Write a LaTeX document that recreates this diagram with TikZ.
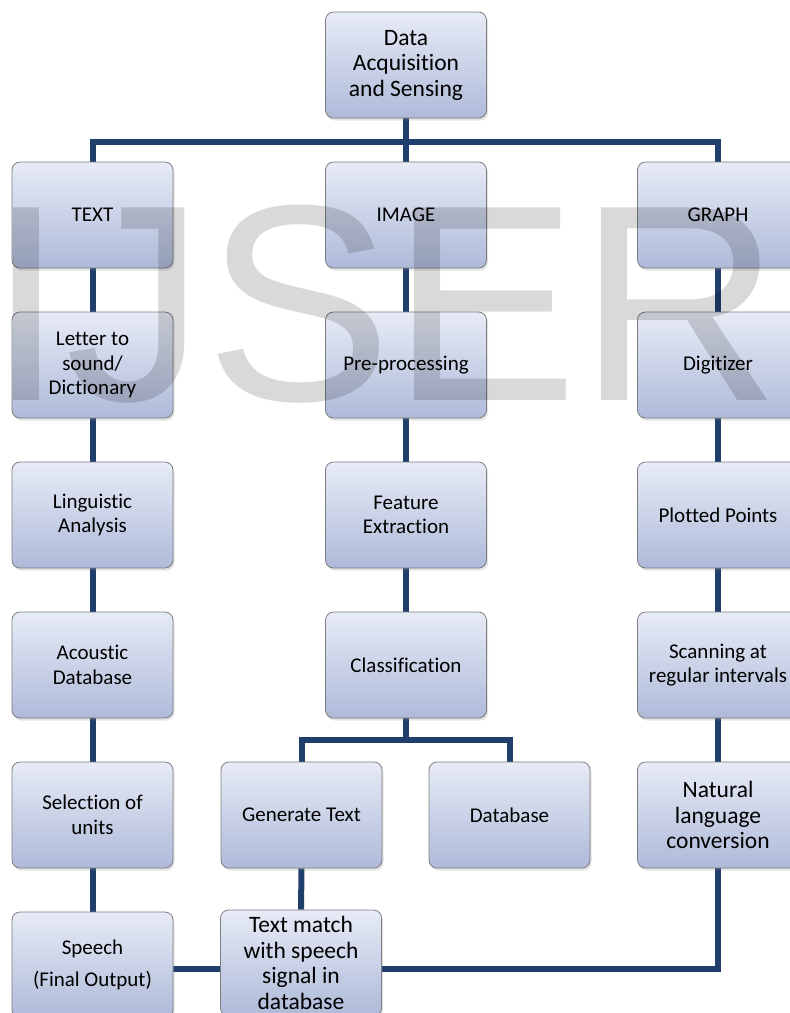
\documentclass[tikz,border=0pt]{standalone}
\usepackage{fontspec}
\setmainfont[Ligatures=NoCommon]{Carlito}
\newfontfamily\wmfont{Liberation Sans}
\usetikzlibrary{shadows,calc}
\pgfdeclarelayer{background}
\pgfdeclarelayer{foreground}
\pgfsetlayers{background,main,foreground}
\definecolor{boxtop}{RGB}{231,235,246}
\definecolor{boxbot}{RGB}{174,186,217}
\definecolor{boxline}{RGB}{125,125,130}
\definecolor{conn}{RGB}{31,62,108}
\tikzset{
  box/.style={rectangle, rounded corners=8pt, draw=boxline, line width=0.8pt,
    top color=boxtop, bottom color=boxbot, minimum width=161pt, minimum height=106pt,
    inner sep=0pt, align=center, font=\fontsize{21}{24.5}\selectfont,
    drop shadow={shadow xshift=1.5pt, shadow yshift=-2.5pt, opacity=0.22}},
  bigbox/.style={box, font=\fontsize{23.5}{25.5}\selectfont},
  link/.style={draw=conn, line width=6pt},
}
\begin{document}
\begin{tikzpicture}[x=1pt,y=-1pt]
\useasboundingbox (0,0) rectangle (790,1013);
% nodes
\node[bigbox] (top) at (406,65) {Data\\Acquisition\\and Sensing};
\node[box] (text) at (92.5,215) {TEXT};
\node[box] (image) at (406,215) {IMAGE};
\node[box] (graph) at (718,215) {GRAPH};
\node[box] (letter) at (92.5,365) {Letter to\\sound/\\Dictionary};
\node[box] (pre) at (406,365) {Pre-processing};
\node[box] (digit) at (718,365) {Digitizer};
\node[box] (ling) at (92.5,515) {Linguistic\\Analysis};
\node[box] (feat) at (406,515) {Feature\\Extraction};
\node[box] (plot) at (718,515) {Plotted Points};
\node[box] (acou) at (92.5,665) {Acoustic\\Database};
\node[box] (class) at (406,665) {Classification};
\node[box] (scan) at (718,665) {Scanning at\\regular intervals};
\node[box] (sel) at (92.5,815) {Selection of\\units};
\node[box] (gen) at (301.5,815) {Generate Text};
\node[box] (db) at (509.5,815) {Database};
\node[bigbox] (nat) at (718,815) {Natural\\language\\conversion};
\node[box] (speech) at (92.5,965) {Speech\\[8pt](Final Output)};
\node[bigbox] (match) at (301,963) {Text match\\with speech\\signal in\\database};
% connectors
\begin{pgfonlayer}{background}
\fill[white] (0,0) rectangle (790,1013);
\draw[link] (top.south) -- (image.north);
\draw[link] (text.north) -- ++(0,-20) -| (graph.north);
\draw[link] (text) -- (letter);
\draw[link] (letter) -- (ling);
\draw[link] (ling) -- (acou);
\draw[link] (acou) -- (sel);
\draw[link] (sel) -- (speech);
\draw[link] (image) -- (pre);
\draw[link] (pre) -- (feat);
\draw[link] (feat) -- (class);
\draw[link] (class.south) -- ++(0,22) coordinate (br);
\draw[link] (gen.north) |- (br) -| (db.north);
\draw[link] (gen) -- (match);
\draw[link] (graph) -- (digit);
\draw[link] (digit) -- (plot);
\draw[link] (plot) -- (scan);
\draw[link] (scan) -- (nat);
\coordinate (bl) at ([yshift=-4pt]speech.east);
\draw[link] (bl) -- (bl -| match.west);
\draw[link] (bl -| match.east) -| (nat.south);
\end{pgfonlayer}
% watermark
\begin{pgfonlayer}{foreground}
\node[anchor=base west, inner sep=0pt, text=black!15, blend mode=multiply,
  font=\wmfont\fontsize{280}{300}\selectfont] (wm) at (-13,400) {IJSER};
\end{pgfonlayer}
\end{tikzpicture}
\end{document}
